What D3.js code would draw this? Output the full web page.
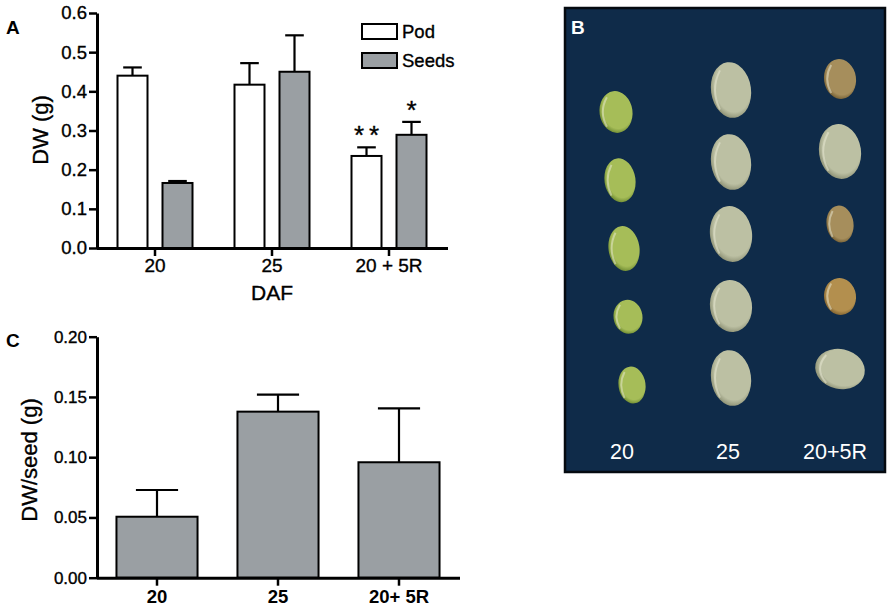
<!DOCTYPE html>
<html>
<head>
<meta charset="utf-8">
<script src="https://cdn.jsdelivr.net/npm/d3@7"></script>
<style>
  body { margin: 0; background: #fff; }
  svg { display: block; }
  text { font-family: "Liberation Sans", Arial, sans-serif; fill: #000; }
  .ink { stroke: #000; stroke-width: 0.35px; }
</style>
</head>
<body>
<svg id="fig" width="892" height="610"></svg>
<script>
// ---- panel A data
const daf = ["20", "25", "20 + 5R"];
const series = ["Pod", "Seeds"];
const podDW = [0.440, 0.417, 0.235];
const podErr = [0.021, 0.055, 0.022];
const seedsDW = [0.166, 0.450, 0.289];
const seedsErr = [0.005, 0.093, 0.033];
const podSig = ["", "", "**"];
const seedsSig = ["", "", "*"];
const yTicksA = [0, 0.1, 0.2, 0.3, 0.4, 0.5, 0.6];

// ---- panel C data
const seedCats = ["20", "25", "20+ 5R"];
const dwPerSeed = [0.0506, 0.1378, 0.0958];
const dwPerSeedErr = [0.0222, 0.0142, 0.0448];
const yTicksC = [0, 0.05, 0.10, 0.15, 0.20];

// ---- panel B (photo) : seeds per column, top to bottom
const photoCols = ["20", "25", "20+5R"];
const seedWidth = [[33, 31, 31, 29, 27], [40, 40, 42, 42, 40], [32, 42, 27, 32, 50]];
const seedHeight = [[42, 44, 45, 34, 37], [56, 56, 56, 52, 56], [40, 55, 37, 37, 40]];
const seedTone = [["green", "green", "green", "green", "green"],
                  ["pale", "pale", "pale", "pale", "pale"],
                  ["brown", "pale", "brown", "orange", "pale"]];

const fillColor = { Pod: "#ffffff", Seeds: "#9a9fa3" };
const toneColor = {
  green: ["#a6bd58", "#62802a"],
  pale: ["#bcc0a3", "#83876b"],
  brown: ["#a68e5c", "#6a552c"],
  orange: ["#b38f4e", "#74582a"]
};

const svg = d3.select("#fig");

function styleAxis(g, fs, bold) {
  g.select(".domain").attr("stroke", "#000").attr("stroke-width", 3);
  g.selectAll(".tick line").attr("stroke", "#000").attr("stroke-width", 2.5);
  g.selectAll(".tick text").attr("fill", "#000").attr("class", bold ? null : "ink")
    .style("font-size", fs + "px").style("font-weight", bold ? "bold" : "normal")
    .style("font-family", '"Liberation Sans", Arial, sans-serif');
}

// ================= Panel A
const yA = d3.scaleLinear().domain([0, 0.6]).range([248, 13]);
const xA = d3.scaleBand().domain(daf).range([96.5, 447.5]);
const xA1 = d3.scaleBand().domain(series).range([21, 96]).paddingInner(1 / 3);

const rowsA = daf.flatMap((d, i) => [
  { cat: d, s: "Pod", v: podDW[i], e: podErr[i], sig: podSig[i] },
  { cat: d, s: "Seeds", v: seedsDW[i], e: seedsErr[i], sig: seedsSig[i] }
]);

const gA = svg.append("g");
const barA = gA.selectAll("g.bar").data(rowsA).join("g").attr("class", "bar")
  .attr("transform", d => `translate(${xA(d.cat) + xA1(d.s)},0)`);
const bwA = xA1.bandwidth();

barA.append("line")
  .attr("x1", bwA / 2).attr("x2", bwA / 2)
  .attr("y1", d => yA(d.v)).attr("y2", d => yA(d.v + d.e))
  .attr("stroke", "#000").attr("stroke-width", 2.2);
barA.append("line")
  .attr("x1", bwA / 2 - bwA * 0.31).attr("x2", bwA / 2 + bwA * 0.31)
  .attr("y1", d => yA(d.v + d.e)).attr("y2", d => yA(d.v + d.e))
  .attr("stroke", "#000").attr("stroke-width", 2.2);
barA.append("rect")
  .attr("x", 0).attr("width", bwA)
  .attr("y", d => yA(d.v)).attr("height", d => yA(0) - yA(d.v))
  .attr("fill", d => fillColor[d.s]).attr("stroke", "#000").attr("stroke-width", 2);
barA.filter(d => d.sig).append("text").attr("class", "ink")
  .attr("x", bwA / 2).attr("y", d => yA(d.v + d.e) - 3)
  .attr("text-anchor", "middle")
  .style("font-size", "26px").style("letter-spacing", "5px")
  .attr("dx", 2.5)
  .text(d => d.sig);

gA.append("g").attr("transform", "translate(97,0)")
  .call(d3.axisLeft(yA).tickValues(yTicksA).tickFormat(d3.format(".1f"))
    .tickSize(8).tickSizeOuter(0).tickPadding(2))
  .call(g => styleAxis(g, 18.5, false));
gA.append("g").attr("transform", `translate(0,${yA(0)})`)
  .call(d3.axisBottom(xA).tickSize(8).tickSizeOuter(0).tickPadding(3))
  .call(g => styleAxis(g, 19, false));

gA.append("text").attr("class", "ink").attr("transform", "translate(48,130) rotate(-90)")
  .attr("text-anchor", "middle").style("font-size", "22px").text("DW (g)");
gA.append("text").attr("class", "ink").attr("x", 272).attr("y", 300)
  .attr("text-anchor", "middle").style("font-size", "21px").text("DAF");
gA.append("text").attr("x", 6).attr("y", 34)
  .style("font-size", "19px").style("font-weight", "bold").text("A");

// legend
const legA = gA.append("g").selectAll("g").data(series).join("g")
  .attr("transform", (d, i) => `translate(362,${24 + i * 29})`);
legA.append("rect").attr("width", 35).attr("height", 15)
  .attr("fill", d => fillColor[d]).attr("stroke", "#000").attr("stroke-width", 2);
legA.append("text").attr("class", "ink").attr("x", 40).attr("y", 14)
  .style("font-size", "18.5px").text(d => d);

// ================= Panel C
const yC = d3.scaleLinear().domain([0, 0.2]).range([577.7, 336.7]);
const xC = d3.scaleBand().domain(seedCats).range([96.5, 459.5]).paddingInner(0.33).paddingOuter(0.165);
const bwC = xC.bandwidth();
const rowsC = seedCats.map((c, i) => ({ cat: c, v: dwPerSeed[i], e: dwPerSeedErr[i] }));

const gC = svg.append("g");
const barC = gC.selectAll("g.bar").data(rowsC).join("g").attr("class", "bar")
  .attr("transform", d => `translate(${xC(d.cat)},0)`);
barC.append("line")
  .attr("x1", bwC / 2).attr("x2", bwC / 2)
  .attr("y1", d => yC(d.v)).attr("y2", d => yC(d.v + d.e))
  .attr("stroke", "#000").attr("stroke-width", 2.2);
barC.append("line")
  .attr("x1", bwC / 2 - bwC * 0.26).attr("x2", bwC / 2 + bwC * 0.26)
  .attr("y1", d => yC(d.v + d.e)).attr("y2", d => yC(d.v + d.e))
  .attr("stroke", "#000").attr("stroke-width", 2.2);
barC.append("rect")
  .attr("x", 0).attr("width", bwC)
  .attr("y", d => yC(d.v)).attr("height", d => yC(0) - yC(d.v))
  .attr("fill", fillColor.Seeds).attr("stroke", "#000").attr("stroke-width", 2);

gC.append("g").attr("transform", "translate(97,0)")
  .call(d3.axisLeft(yC).tickValues(yTicksC).tickFormat(d3.format(".2f"))
    .tickSize(8).tickSizeOuter(0).tickPadding(2))
  .call(g => styleAxis(g, 17, false));
gC.append("g").attr("transform", `translate(0,${yC(0)})`)
  .call(d3.axisBottom(xC).tickSize(8).tickSizeOuter(0).tickPadding(4))
  .call(g => styleAxis(g, 18.5, true));

gC.append("text").attr("class", "ink").attr("transform", "translate(37,460) rotate(-90)")
  .attr("text-anchor", "middle").style("font-size", "22px").text("DW/seed (g)");
gC.append("text").attr("x", 6).attr("y", 347)
  .style("font-size", "19px").style("font-weight", "bold").text("C");

// ================= Panel B (photo of seeds)
const gB = svg.append("g");
const defs = svg.append("defs");
Object.entries(toneColor).forEach(([k, c]) => {
  const rg = defs.append("radialGradient").attr("id", "seed-" + k)
    .attr("cx", "55%").attr("cy", "45%").attr("r", "60%");
  rg.append("stop").attr("offset", "0%").attr("stop-color", c[0]);
  rg.append("stop").attr("offset", "75%").attr("stop-color", c[0]);
  rg.append("stop").attr("offset", "100%").attr("stop-color", c[1]);
});

gB.append("rect").attr("x", 565).attr("y", 8).attr("width", 320).attr("height", 464)
  .attr("fill", "#0f2b49").attr("stroke", "#050a10").attr("stroke-width", 2.5);

const xB = d3.scalePoint().domain(photoCols).range([622, 840]);
const rowB = d3.scaleLinear().domain([0, 4]);
const rowRange = { "20": [112, 385], "25": [90, 378], "20+5R": [79, 369] };

const seeds = photoCols.flatMap((c, ci) => seedWidth[ci].map((w, ri) => ({
  col: c, row: ri, w: w, h: seedHeight[ci][ri], tone: seedTone[ci][ri]
})));
const seedX = d => xB(d.col) + (d.col === "20" ? d.row * 4 - 6 : 0);
const seedY = d => rowB.range(rowRange[d.col])(d.row);

gB.selectAll("ellipse.seed").data(seeds).join("ellipse").attr("class", "seed")
  .attr("cx", seedX).attr("cy", seedY)
  .attr("rx", d => d.w / 2).attr("ry", d => d.h / 2)
  .attr("transform", d => `rotate(${d.w > d.h ? 12 : -8},${seedX(d)},${seedY(d)})`)
  .attr("fill", d => `url(#seed-${d.tone})`);
// light hilum rim on left edge
gB.selectAll("path.rim").data(seeds).join("path").attr("class", "rim")
  .attr("d", d => {
    const cx = seedX(d), cy = seedY(d);
    const rx = d.w / 2, ry = d.h / 2;
    return `M${cx - rx * 0.55},${cy - ry * 0.7} Q${cx - rx * 1.05},${cy} ${cx - rx * 0.55},${cy + ry * 0.7}`;
  })
  .attr("fill", "none").attr("stroke", "rgba(235,235,215,0.5)").attr("stroke-width", 2);

gB.append("text").attr("x", 571).attr("y", 34)
  .style("font-size", "19px").style("font-weight", "bold").style("fill", "#fff").text("B");
gB.selectAll("text.col").data(photoCols).join("text").attr("class", "col")
  .attr("x", d => xB(d) + (d === "20" ? 0 : d === "25" ? -3 : -5)).attr("y", 459)
  .attr("text-anchor", "middle").style("font-size", "21.5px").style("fill", "#fff")
  .text(d => d);
</script>
</body>
</html>
